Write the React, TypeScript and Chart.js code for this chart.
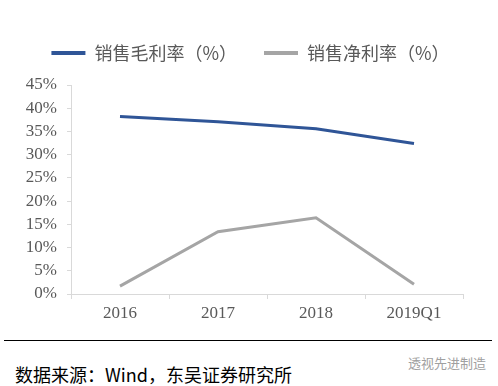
import React, { useEffect, useRef } from "react";
import { Chart, registerables } from "chart.js";

Chart.register(...registerables);

const categories = ["2016", "2017", "2018", "2019Q1"];
const grossMargin = [38.2, 37.1, 35.6, 32.4];
const netMargin = [1.7, 13.4, 16.4, 2.1];
const seriesNames = ["销售毛利率（%）", "销售净利率（%）"];
const yMax = 45;
const yStep = 5;
const sourceText = "数据来源：Wind，东吴证券研究所";
const watermark = "透视先进制造";

const legendGapPlugin = {
  id: "legendGap",
  beforeLayout(chart: any) {
    const lg = chart.legend;
    if (lg && !lg.__patched) {
      const origFit = lg.fit;
      lg.fit = function () {
        origFit.call(this);
        this.height += 15;
      };
      const origDraw = lg.draw;
      lg.draw = function (...args: any[]) {
        const c = this.ctx;
        c.save();
        c.translate(19, 2);
        origDraw.apply(this, args);
        c.restore();
      };
      lg.__patched = true;
    }
  },
};

export default function App() {
  const ref = useRef<HTMLCanvasElement>(null);
  useEffect(() => {
    const ctx = ref.current!;
    const chart = new Chart(ctx, {
      type: "line",
      data: {
        labels: categories,
        datasets: [
          {
            label: seriesNames[0],
            data: grossMargin,
            borderColor: "#2F5597",
            backgroundColor: "#2F5597",
            borderWidth: 3,
            pointRadius: 0,
            tension: 0,
          },
          {
            label: seriesNames[1],
            data: netMargin,
            borderColor: "#A5A5A5",
            backgroundColor: "#A5A5A5",
            borderWidth: 3,
            pointRadius: 0,
            tension: 0,
          },
        ],
      },
      plugins: [legendGapPlugin],
      options: {
        animation: false,
        responsive: false,
        maintainAspectRatio: false,
        layout: { padding: { top: 15, right: 35, left: 0, bottom: 0 } },
        plugins: {
          tooltip: { enabled: false },
          legend: {
            position: "top",
            labels: {
              boxWidth: 34,
              boxHeight: 4,
              padding: 27,
              color: "#595959",
              font: { family: "'Noto Sans CJK SC', sans-serif", size: 18 },
              generateLabels: (c: any) =>
                Chart.defaults.plugins.legend.labels
                  .generateLabels(c)
                  .map((l: any) => ({ ...l, lineWidth: 0, fillStyle: l.strokeStyle })),
            },
          },
        },
        scales: {
          x: {
            offset: true,
            grid: {
              offset: true,
              drawOnChartArea: false,
              drawTicks: true,
              tickLength: 5,
              color: "#D9D9D9",
            },
            border: { color: "#D9D9D9", width: 1 },
            ticks: {
              color: "#595959",
              padding: 4,
              autoSkip: false,
              maxRotation: 0,
              font: { family: "'Liberation Serif', 'Times New Roman', serif", size: 17 },
            },
            afterFit: (s: any) => {
              s.height = 36;
            },
          },
          y: {
            min: 0,
            max: yMax,
            grid: {
              drawOnChartArea: false,
              drawTicks: true,
              tickLength: 4,
              color: "#D9D9D9",
            },
            border: { color: "#D9D9D9", width: 1 },
            ticks: {
              stepSize: yStep,
              autoSkip: false,
              color: "#595959",
              padding: 10,
              font: { family: "'Liberation Serif', 'Times New Roman', serif", size: 17, lineHeight: 1 },
              callback: (v: any) => v + "%",
            },
            afterFit: (s: any) => {
              s.width = 71;
            },
          },
        },
      },
    });
    return () => chart.destroy();
  }, []);

  return (
    <div
      style={{
        position: "fixed",
        left: 0,
        top: 0,
        width: 498,
        height: 386,
        background: "#fff",
        overflow: "hidden",
      }}
    >
      <canvas ref={ref} width={498} height={330} style={{ position: "absolute", left: 0, top: 0 }} />
      <div
        style={{
          position: "absolute",
          left: 4,
          top: 340,
          width: 488,
          height: 0,
          borderTop: "1.5px solid #000",
        }}
      />
      <div
        style={{
          position: "absolute",
          left: 15,
          top: 362,
          fontFamily: "'Noto Sans CJK SC', sans-serif",
          fontSize: 18,
          lineHeight: "24px",
          color: "#000",
          whiteSpace: "nowrap",
        }}
      >
        {sourceText}
      </div>
      <div
        style={{
          position: "absolute",
          left: 408,
          top: 354,
          fontFamily: "'Noto Sans CJK SC', sans-serif",
          fontSize: 13,
          lineHeight: "18px",
          color: "#A0A0A0",
          whiteSpace: "nowrap",
        }}
      >
        {watermark}
      </div>
    </div>
  );
}
